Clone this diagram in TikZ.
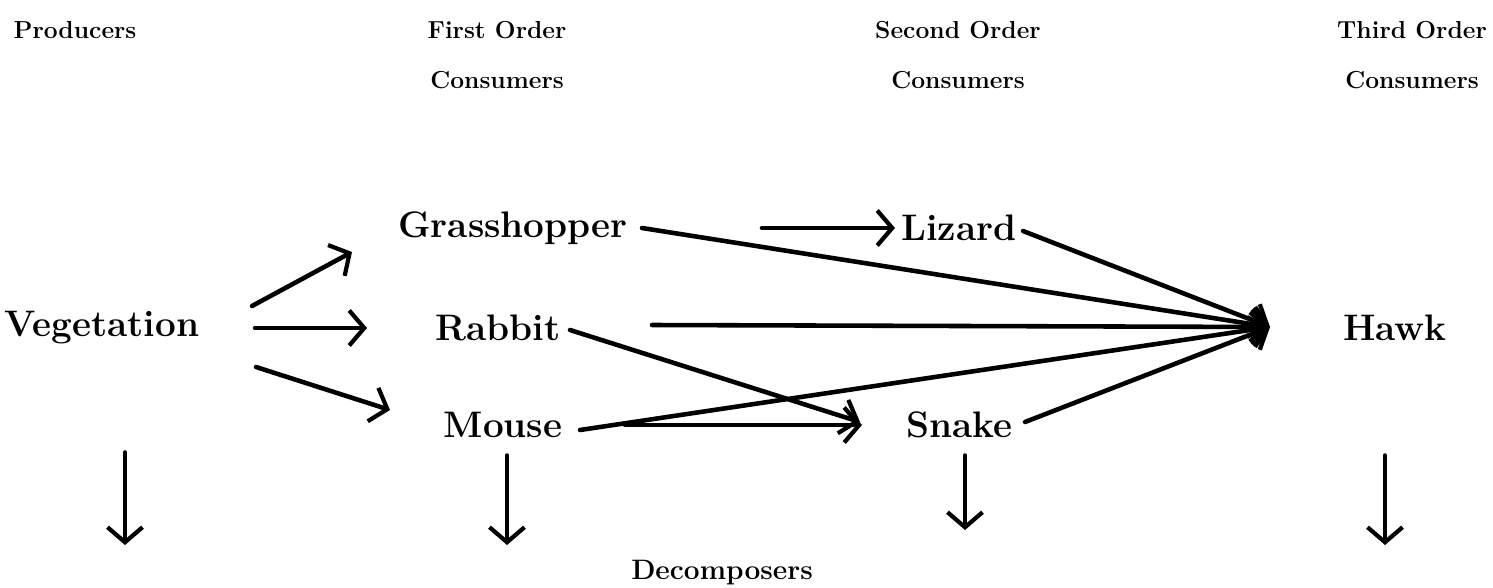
\documentclass[tikz,border=0pt]{standalone}
\usepackage{tikz}
\usetikzlibrary{arrows.meta}
\newcommand{\headfontsize}{14}
\newcommand{\namefontsize}{21}
\tikzstyle{species}=[inner sep=2pt, font=\fontsize{\namefontsize}{24}\selectfont\bfseries]
\tikzstyle{heading}=[inner sep=2pt, align=center, font=\fontsize{\headfontsize}{28.5}\selectfont\bfseries]
\tikzstyle{sink}=[heading, font=\fontsize{16}{19}\selectfont\bfseries]
\tikzstyle{feeds}=[line width=2.6pt, line cap=round, -{Straight Barb[length=0.3cm, width=0.7cm, line width=2.4pt]}]
\tikzstyle{decays}=[feeds, line width=2pt]
\tikzstyle{foodweb}=[x=1cm, y=1cm,
                     % White page with the reference margins.
                     execute at begin picture={\useasboundingbox[fill=white] (0, 0) rectangle (29.86, 11.74);}]

\begin{document}
\begin{tikzpicture}[foodweb]
        % Column headings.
        \node[heading] (prod)   at (1.5, 11.14)   {Producers};
        \node[heading] (first)  at (9.94, 10.64)  {First Order\\Consumers};
        \node[heading] (second) at (19.16, 10.64) {Second Order\\Consumers};
        \node[heading] (third)  at (28.24, 10.64) {Third Order\\Consumers};
        % Species.
        \node[species] (veg)    at (2.04, 5.18)   {Vegetation};
        \node[species] (grass)  at (10.26, 7.18)  {Grasshopper};
        \node[species] (rabbit) at (9.96, 5.18)   {Rabbit};
        \node[species] (mouse)  at (10.06, 3.24)  {Mouse};
        \node[species] (lizard) at (19.18, 7.18)  {Lizard};
        \node[species] (snake)  at (19.18, 3.24)  {Snake};
        \node[species] (hawk)   at (27.9, 5.18)   {Hawk};
        \node[sink]    (decomp) at (14.44, 0.28)  {Decomposers};
        \coordinate (hawkin) at (25.4, 5.2);
        % Who eats whom.
        \draw[feeds] ([shift={(3.0, 0.44)}]veg.center)   -- ([shift={(-3.22, -0.48)}]grass.center);
        \draw[feeds] ([shift={(3.06, 0)}]veg.center)     -- ([shift={(-2.62, 0)}]rabbit.center);
        \draw[feeds] ([shift={(3.08, -0.78)}]veg.center) -- ([shift={(-2.26, 0.3)}]mouse.center);
        \draw[feeds] ([shift={(4.98, 0)}]grass.center)   -- ([shift={(-1.28, 0)}]lizard.center);
        \draw[feeds] ([shift={(1.44, -0.04)}]rabbit.center) -- ([shift={(-1.98, 0.06)}]snake.center);
        \draw[feeds] ([shift={(2.44, 0)}]mouse.center)   -- ([shift={(-1.94, 0)}]snake.center);
        \draw[feeds] ([shift={(2.58, 0)}]grass.center)   -- (hawkin);
        \draw[feeds] ([shift={(1.28, -0.06)}]lizard.center) -- (hawkin);
        \draw[feeds] ([shift={(3.08, 0.06)}]rabbit.center) -- (hawkin);
        \draw[feeds] ([shift={(1.54, -0.1)}]mouse.center) -- (hawkin);
        \draw[feeds] ([shift={(1.32, 0.06)}]snake.center) -- (hawkin);
        % Down to the decomposers.
        \draw[decays] ([shift={(0.46, -2.48)}]veg.center)  -- +(0, -1.86);
        \draw[decays] ([shift={(0.08, -0.6)}]mouse.center) -- +(0, -1.8);
        \draw[decays] ([shift={(0.12, -0.6)}]snake.center) -- +(0, -1.5);
        \draw[decays] ([shift={(-0.2, -2.54)}]hawk.center) -- +(0, -1.8);
    \end{tikzpicture}
\end{document}
